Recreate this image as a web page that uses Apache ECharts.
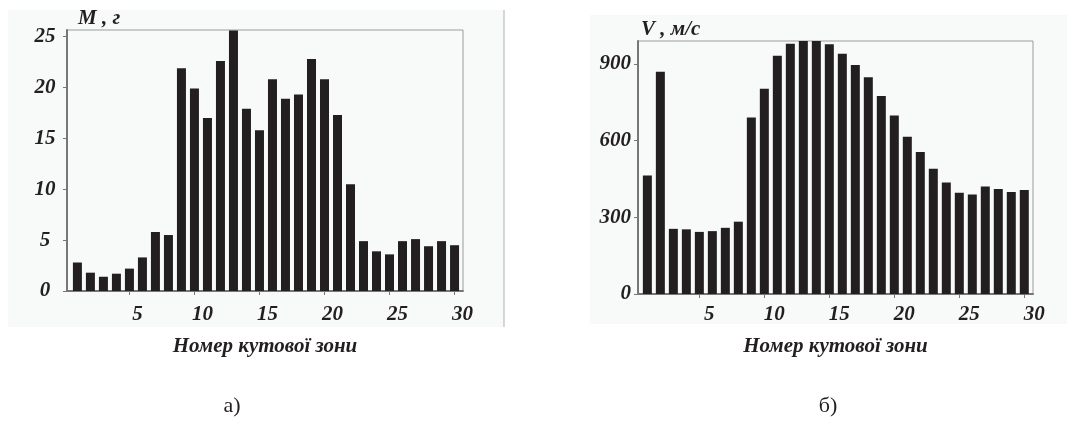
<!DOCTYPE html>
<html>
<head>
<meta charset="utf-8">
<script src="https://cdn.jsdelivr.net/npm/echarts@6/dist/echarts.min.js"></script>
<style>
  html, body { margin: 0; padding: 0; background: #ffffff; }
  #chart { width: 1067px; height: 421px; }
</style>
</head>
<body>
<div id="chart"></div>
<script>
// ---- data ----
const zones = [1,2,3,4,5,6,7,8,9,10,11,12,13,14,15,16,17,18,19,20,21,22,23,24,25,26,27,28,29,30];
const massValues = [2.8, 1.8, 1.4, 1.7, 2.2, 3.3, 5.8, 5.5, 21.9, 19.9, 17.0, 22.6, 25.6, 17.9, 15.8,
                    20.8, 18.9, 19.3, 22.8, 20.8, 17.3, 10.5, 4.9, 3.9, 3.6, 4.9, 5.1, 4.4, 4.9, 4.5];
const speedValues = [464, 870, 255, 253, 243, 246, 259, 283, 691, 803, 932, 979, 990, 990, 977,
                     940, 896, 848, 775, 698, 615, 556, 490, 436, 396, 389, 421, 411, 399, 407];
const xTickValues = [5, 10, 15, 20, 25, 30];
const massAxisName = 'M , г';
const speedAxisName = 'V , м/с';
const xAxisTitle = 'Номер кутової зони';
const captions = ['а)', 'б)'];

// ---- styles ----
const serif = "'Liberation Serif', 'DejaVu Serif', serif";
const ink = '#231f20';
const axisGray = '#777777';
const panelBg = '#f8fafa';
const tickFont = { fontFamily: serif, fontWeight: 'bold', fontStyle: 'italic', fontSize: 21, color: ink };

function xAxisCfg(gridIndex, min, max, margin, shift, gap) {
  return {
    gridIndex, type: 'value', min, max,
    axisLine: { show: true, onZero: false, lineStyle: { color: axisGray, width: 2 } },
    axisTick: { show: true, customValues: xTickValues, length: 4, lineStyle: { color: axisGray, width: 1 } },
    axisLabel: Object.assign({ customValues: xTickValues, margin, verticalAlign: 'middle', padding: [0, 0, 0, shift] }, tickFont),
    splitLine: { show: false },
    name: xAxisTitle, nameLocation: 'middle', nameGap: gap,
    nameTextStyle: { fontFamily: serif, fontWeight: 'bold', fontStyle: 'italic', fontSize: 21, color: ink, verticalAlign: 'middle' }
  };
}
function yAxisCfg(gridIndex, max, interval, name, labelMargin, align, namePad) {
  return {
    gridIndex, type: 'value', min: 0, max, interval,
    axisLine: { show: true, onZero: false, lineStyle: { color: axisGray, width: 2 } },
    axisTick: { show: true, length: 4, lineStyle: { color: axisGray, width: 1 } },
    axisLabel: Object.assign({ margin: labelMargin, align, showMaxLabel: false }, tickFont),
    splitLine: { show: false },
    name, nameLocation: 'end', nameGap: 11,
    nameTextStyle: { fontFamily: serif, fontWeight: 'bold', fontStyle: 'italic', fontSize: 21, color: ink,
                     align: 'left', verticalAlign: 'middle', padding: [0, 0, 0, namePad] }
  };
}

const chart = echarts.init(document.getElementById('chart'), null, { renderer: 'canvas' });
chart.setOption({
  animation: false,
  backgroundColor: '#ffffff',
  graphic: [
    { type: 'rect', z: -10, shape: { x: 8, y: 10, width: 496, height: 317 }, style: { fill: panelBg } },
    { type: 'line', z: -9, shape: { x1: 504, y1: 10, x2: 504, y2: 327 }, style: { stroke: '#b0b0b0', lineWidth: 1 } },
    { type: 'rect', z: -10, shape: { x: 590, y: 15, width: 477, height: 309 }, style: { fill: panelBg } },
    { type: 'text', x: 232, y: 406, style: { text: captions[0], font: "22px 'Liberation Serif', serif", fill: ink, align: 'center', verticalAlign: 'middle' } },
    { type: 'text', x: 828, y: 406, style: { text: captions[1], font: "22px 'Liberation Serif', serif", fill: ink, align: 'center', verticalAlign: 'middle' } }
  ],
  grid: [
    { left: 67, top: 30, width: 396, height: 261, show: true, backgroundColor: panelBg, borderColor: '#9a9a9a', borderWidth: 1, containLabel: false },
    { left: 638, top: 41, width: 395, height: 253, show: true, backgroundColor: panelBg, borderColor: '#9a9a9a', borderWidth: 1, containLabel: false }
  ],
  xAxis: [
    xAxisCfg(0, 0.2, 30.65, 24, 16, 56),
    xAxisCfg(1, 0.28, 30.67, 21, 20, 53)
  ],
  yAxis: [
    yAxisCfg(0, 25.65, 5, massAxisName, 22, 'center', 11),
    yAxisCfg(1, 990, 300, speedAxisName, 7, 'right', 3)
  ],
  series: [
    { type: 'bar', xAxisIndex: 0, yAxisIndex: 0, barWidth: 9, clip: true,
      itemStyle: { color: ink }, data: zones.map((z, i) => [z, massValues[i]]) },
    { type: 'bar', xAxisIndex: 1, yAxisIndex: 1, barWidth: 9, clip: true,
      itemStyle: { color: ink }, data: zones.map((z, i) => [z, speedValues[i]]) }
  ]
});
</script>
</body>
</html>
